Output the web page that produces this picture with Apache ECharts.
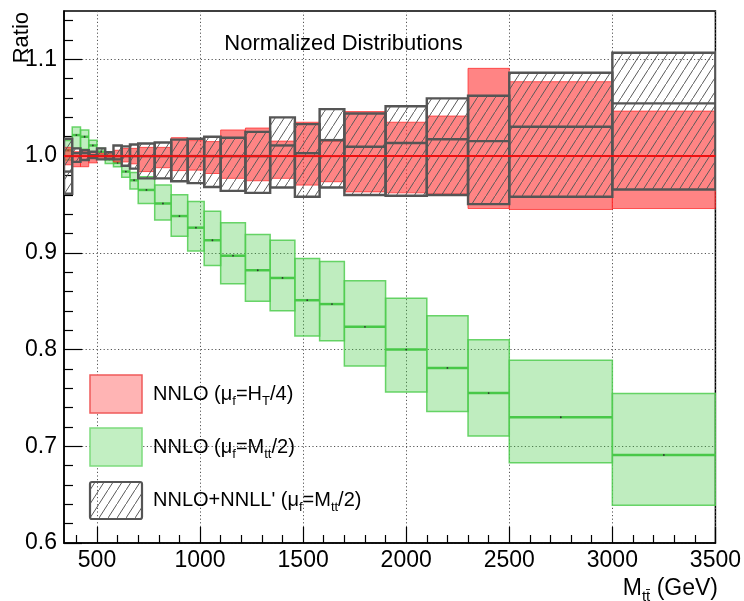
<!DOCTYPE html>
<html><head><meta charset="utf-8">
<script src="https://cdn.jsdelivr.net/npm/echarts@6/dist/echarts.min.js"></script>
<style>html,body{margin:0;padding:0;background:#fff}#c{width:744px;height:601px}</style>
</head><body><div id="c"></div>
<script>
// ---- data ----
const binLow  = [340,380,420,460,500,540,580,620,660,700,780,860,940,1020,1100,1220,1340,1460,1580,1700,1900,2100,2300,2500,3000];
const binHigh = [380,420,460,500,540,580,620,660,700,780,860,940,1020,1100,1220,1340,1460,1580,1700,1900,2100,2300,2500,3000,3500];

// NNLO (mu_f = H_T/4)
const redLow     = [0.991,0.989,0.989,0.993,0.9976,0.997,0.994,0.994,0.992,0.984,0.988,0.985,0.9855,0.982,0.977,0.9745,0.977,0.970,0.9735,0.963,0.962,0.9607,0.9458,0.9448,0.9458];
const redCentral = [1.0,1.0,1.0,1.0,1.0,1.0,1.0,1.0,1.0,1.0,1.0,1.0,1.0,1.0,1.0,1.0,1.0,1.0,1.0,1.0,1.0,1.0,1.0,1.0,1.0];
const redHigh    = [1.009,1.0045,1.0045,1.004,1.0028,1.003,1.006,1.008,1.008,1.009,1.009,1.019,1.016,1.015,1.027,1.029,1.0155,1.035,1.0155,1.046,1.035,1.0414,1.0907,1.0769,1.0465];

// NNLO (mu_f = M_tt/2)
const greenLow     = [0.996,1.008,1.007,1.0045,1.001,0.9924,0.989,0.978,0.966,0.951,0.934,0.917,0.902,0.887,0.868,0.850,0.840,0.814,0.809,0.783,0.756,0.736,0.7105,0.683,0.639];
const greenCentral = [1.006,1.0217,1.020,1.011,1.0045,0.9966,0.993,0.984,0.975,0.965,0.951,0.938,0.926,0.913,0.897,0.882,0.874,0.851,0.847,0.8235,0.800,0.781,0.755,0.730,0.691];
const greenHigh    = [1.016,1.030,1.027,1.0165,1.008,1.001,0.997,0.990,0.983,0.9786,0.970,0.960,0.953,0.943,0.931,0.919,0.913,0.894,0.891,0.871,0.853,0.835,0.810,0.789,0.7546];

// NNLO+NNLL' (mu_f = M_tt/2)
const resumLow     = [0.961,0.994,0.996,0.998,0.9966,0.997,0.9966,0.990,0.987,0.977,0.977,0.974,0.972,0.968,0.964,0.962,0.9676,0.958,0.9676,0.9597,0.959,0.9597,0.9503,0.9579,0.9655];
const resumCentral = [0.984,1.003,1.003,1.001,1.0,1.0,1.0,1.0,1.0,1.0,1.0,1.0,1.0,1.0,1.0,1.0,1.011,1.003,1.0165,1.0096,1.0135,1.0174,1.0155,1.0303,1.0545];
const resumHigh    = [1.018,1.008,1.006,1.0045,1.008,1.004,1.011,1.010,1.012,1.013,1.014,1.017,1.018,1.020,1.019,1.025,1.040,1.033,1.0486,1.0441,1.0515,1.0597,1.0624,1.0862,1.1068];

// ticks
const xMajorTicks = [500,1000,1500,2000,2500,3000,3500];
const xMinorTicks = [400,600,700,800,900,1100,1200,1300,1400,1600,1700,1800,1900,2100,2200,2300,2400,2600,2700,2800,2900,3100,3200,3300,3400];
const yMajorTicks = [0.6,0.7,0.8,0.9,1.0,1.1];
const yMinorTicks = [0.62,0.64,0.66,0.68,0.72,0.74,0.76,0.78,0.82,0.84,0.86,0.88,0.92,0.94,0.96,0.98,1.02,1.04,1.06,1.08,1.12,1.14];

// ---- build ----
function rows(lo, c, hi) {
  return binLow.map((x0, i) => [x0, binHigh[i], lo[i], c[i], hi[i]]);
}
function makeHatch() {
  const cv = document.createElement('canvas');
  cv.width = 9; cv.height = 14;
  const g = cv.getContext('2d');
  g.strokeStyle = '#5a5a5a'; g.lineWidth = 1;
  g.beginPath();
  g.moveTo(-1, 14 + 14/9); g.lineTo(10, -14/9);
  g.stroke();
  return cv;
}
const hatch = {image: makeHatch(), repeat: 'repeat'};

function boxRenderer(fill, stroke, lw, cStroke, cW, dot) {
  return function (params, api) {
    const x0 = api.value(0), x1 = api.value(1), lo = api.value(2), c = api.value(3), hi = api.value(4);
    const a = api.coord([x0, hi]), b = api.coord([x1, lo]);
    const ca = api.coord([x0, c]), cb = api.coord([x1, c]);
    const children = [];
    if (fill !== null) {
      children.push({type: 'rect', shape: {x: a[0], y: a[1], width: b[0] - a[0], height: b[1] - a[1]},
        style: {fill: fill, stroke: stroke, lineWidth: lw}});
    }
    if (cStroke) {
      children.push({type: 'line', shape: {x1: ca[0], y1: ca[1], x2: cb[0], y2: cb[1]},
        style: {stroke: cStroke, lineWidth: cW}});
    }
    if (dot) {
      children.push({type: 'circle', shape: {cx: (ca[0] + cb[0]) / 2, cy: ca[1], r: 0.9}, style: {fill: '#333'}});
    }
    return {type: 'group', children: children};
  };
}

const FONT = 'Liberation Sans, Arial, Helvetica, sans-serif';
const chart = echarts.init(document.getElementById('c'), null, {renderer: 'canvas'});

const axisBase = {type: 'value', axisLine: {show: true, onZero: false, lineStyle: {color: '#000', width: 1.5}}};
const option = {
  animation: false,
  backgroundColor: '#fff',
  grid: {left: 64, right: 25.5, top: 11, bottom: 58, show: true, borderColor: '#000', borderWidth: 1.5, containLabel: false},
  xAxis: [
    Object.assign({}, axisBase, {min: 340, max: 3500, position: 'bottom',
      axisTick: {show: true, inside: true, length: 16, customValues: xMajorTicks, lineStyle: {color: '#000', width: 1.2}},
      axisLabel: {show: true, customValues: xMajorTicks, fontSize: 23, color: '#000', margin: 6, fontFamily: FONT,
        formatter: v => String(v)},
      splitLine: {show: true, lineStyle: {type: [1.2, 2.4], color: '#555', width: 1}}}),
    Object.assign({}, axisBase, {min: 340, max: 3500, position: 'bottom',
      axisLine: {show: false},
      axisTick: {show: true, inside: true, length: 8, customValues: xMinorTicks, lineStyle: {color: '#000', width: 1.2}},
      axisLabel: {show: false}, splitLine: {show: false}})
  ],
  yAxis: [
    Object.assign({}, axisBase, {min: 0.6, max: 1.15, interval: 0.1, position: 'left',
      axisTick: {show: true, inside: true, length: 18, customValues: yMajorTicks, lineStyle: {color: '#000', width: 1.2}},
      axisLabel: {show: true, customValues: yMajorTicks, fontSize: 23, color: '#000', margin: 7, fontFamily: FONT,
        formatter: v => Number(v).toFixed(1)},
      splitLine: {show: true, lineStyle: {type: [1.2, 2.4], color: '#555', width: 1}}}),
    Object.assign({}, axisBase, {min: 0.6, max: 1.15, position: 'left',
      axisLine: {show: false},
      axisTick: {show: true, inside: true, length: 9, customValues: yMinorTicks, lineStyle: {color: '#000', width: 1.2}},
      axisLabel: {show: false}, splitLine: {show: false}})
  ],
  series: [
    {type: 'custom', name: 'green', xAxisIndex: 0, yAxisIndex: 0, clip: true,
      renderItem: boxRenderer('rgba(60,200,60,0.33)', 'rgba(80,205,80,0.85)', 1.5, '#48c848', 2.5, true),
      encode: {x: [0, 1], y: [2, 4]}, data: rows(greenLow, greenCentral, greenHigh)},
    {type: 'custom', name: 'red', xAxisIndex: 0, yAxisIndex: 0, clip: true,
      renderItem: boxRenderer('rgba(255,50,50,0.6)', 'rgba(255,40,40,0.75)', 1, null, 0, false),
      encode: {x: [0, 1], y: [2, 4]}, data: rows(redLow, redCentral, redHigh)},
    {type: 'custom', name: 'resum', xAxisIndex: 0, yAxisIndex: 0, clip: true,
      renderItem: boxRenderer(hatch, '#555', 2.4, '#555', 2.4, false),
      encode: {x: [0, 1], y: [2, 4]}, data: rows(resumLow, resumCentral, resumHigh)},
    {type: 'custom', name: 'redline', xAxisIndex: 0, yAxisIndex: 0, clip: true,
      renderItem: boxRenderer(null, null, 0, '#ee1111', 2, false),
      encode: {x: [0, 1], y: [2, 4]}, data: rows(redLow, redCentral, redHigh)}
  ],
  graphic: [
    {type: 'text', x: 343.5, y: 44, z: 100, style: {text: 'Normalized Distributions', fontSize: 22, fontFamily: FONT,
      fill: '#000', align: 'center', verticalAlign: 'middle'}},
    {type: 'text', x: 22, y: 12, rotation: Math.PI / 2, z: 100, style: {text: 'Ratio', fontSize: 22, fontFamily: FONT,
      fill: '#000', align: 'right', verticalAlign: 'middle'}},
    {type: 'text', x: 718, y: 589, z: 100, style: {
      text: '{a|M}{s|tt\u0304}{a| (GeV)}', align: 'right', verticalAlign: 'middle', fill: '#000',
      rich: {a: {fontSize: 23, fontFamily: FONT, lineHeight: 30, verticalAlign: 'middle'},
             s: {fontSize: 15, fontFamily: FONT, lineHeight: 14, verticalAlign: 'bottom'}}}},
    // legend
    {type: 'rect', z: 100, shape: {x: 90, y: 375, width: 52, height: 38}, style: {fill: '#ffb4b4', stroke: '#f05a5a', lineWidth: 1.5}},
    {type: 'rect', z: 100, shape: {x: 90, y: 428, width: 52, height: 38}, style: {fill: '#c2efc2', stroke: '#7ddc7d', lineWidth: 1.5}},
    {type: 'rect', z: 100, shape: {x: 90, y: 482, width: 52, height: 37, r: 2}, style: {fill: hatch, stroke: '#555', lineWidth: 2.2}},
    {type: 'text', x: 153, y: 394, z: 100, style: {
      text: '{a|NNLO (\u03bc}{s|f}{a|=H}{s|T}{a|/4)}', align: 'left', verticalAlign: 'middle', fill: '#000',
      rich: {a: {fontSize: 20, fontFamily: FONT, lineHeight: 28}, s: {fontSize: 13, fontFamily: FONT, lineHeight: 13, verticalAlign: 'bottom'}}}},
    {type: 'text', x: 153, y: 447, z: 100, style: {
      text: '{a|NNLO (\u03bc}{s|f}{a|=M}{s|tt}{a|/2)}', align: 'left', verticalAlign: 'middle', fill: '#000',
      rich: {a: {fontSize: 20, fontFamily: FONT, lineHeight: 28}, s: {fontSize: 13, fontFamily: FONT, lineHeight: 13, verticalAlign: 'bottom'}}}},
    {type: 'text', x: 153, y: 500, z: 100, style: {
      text: '{a|NNLO+NNLL\' (\u03bc}{s|f}{a|=M}{s|tt}{a|/2)}', align: 'left', verticalAlign: 'middle', fill: '#000',
      rich: {a: {fontSize: 20, fontFamily: FONT, lineHeight: 28}, s: {fontSize: 13, fontFamily: FONT, lineHeight: 13, verticalAlign: 'bottom'}}}}
  ]
};
chart.setOption(option);
</script>
</body></html>
